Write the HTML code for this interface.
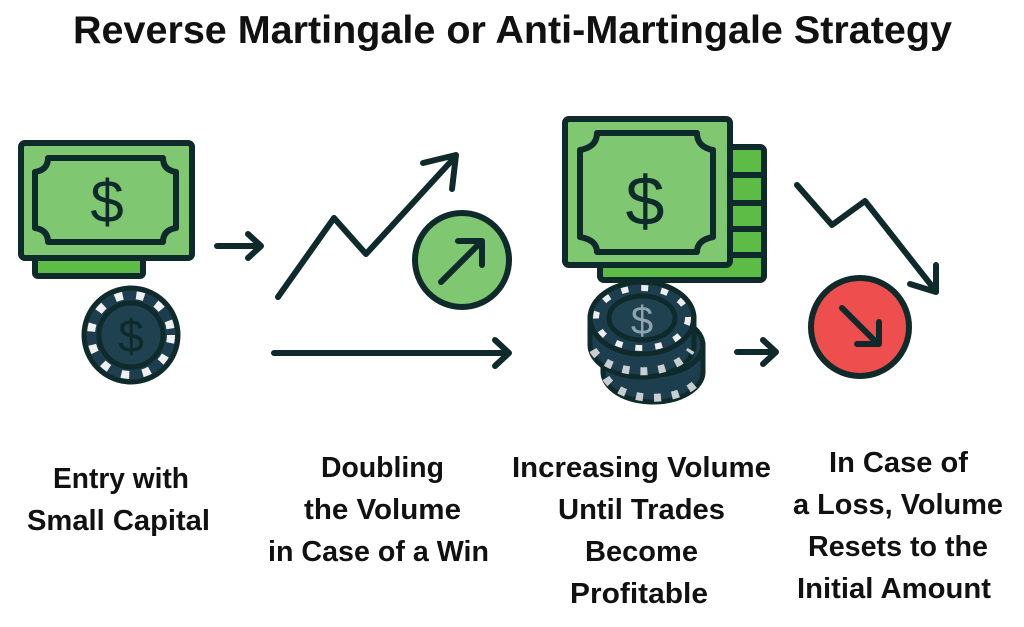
<!DOCTYPE html>
<html><head><style>
html,body{margin:0;padding:0;background:#fff;}
svg{display:block;}
text{font-family:"Liberation Sans",sans-serif;font-weight:bold;fill:#111;}
text.d{font-weight:normal;}
</style></head><body>
<svg width="1024" height="627" viewBox="0 0 1024 627" xmlns="http://www.w3.org/2000/svg">
<rect width="1024" height="627" fill="#fff"/>
<text x="73" y="43" font-size="39" textLength="879" lengthAdjust="spacingAndGlyphs">Reverse Martingale or Anti-Martingale Strategy</text>

<g stroke="#0f2a2a" stroke-width="6" stroke-linejoin="round" stroke-linecap="round">
<rect x="35" y="250" width="108" height="26" rx="3" fill="#5cbc45"/>
<rect x="21" y="143" width="171" height="115" rx="4" fill="#80c772"/>
<path d="M48 158 H163 Q163 170 176 172 V228 Q163 230 163 242 H48 Q48 230 35 228 V172 Q48 170 48 158Z" fill="#80c772"/>
</g>
<text class="d" x="107" y="222" font-size="60" text-anchor="middle" style="fill:#0f2a2a">$</text>

<!-- chip 1 -->
<circle cx="131" cy="335" r="47" fill="#1d3e4e" stroke="#0f2a2a" stroke-width="5"/>
<circle cx="131" cy="335" r="40" fill="none" stroke="#f0f0f0" stroke-width="8" stroke-dasharray="8 13.5"/>
<circle cx="131" cy="335" r="32" fill="#1f4150" stroke="#0f2a2a" stroke-width="5"/>
<text class="d" x="131" y="352" font-size="46" text-anchor="middle" style="fill:#0f2a2a">$</text>

<g fill="none" stroke="#0f2a2a" stroke-width="6" stroke-linecap="round" stroke-linejoin="round">
<path d="M217 246 H260 M248 234 L261 246 L248 258"/>
<path d="M278 297 L334 218 L366 254 L455 157 M423 163 L456 155 L452 189"/>
<path d="M274 353 H508 M495 340 L509 353 L495 366"/>
<path d="M737 352 H775 M763 340 L776 352 L763 364"/>
<path d="M797 185 L832 225 L865 201 L935 290 M910 284 L936 292 L936 265"/>
</g>
<circle cx="462" cy="260" r="47" fill="#80c772" stroke="#0f2a2a" stroke-width="6"/>
<path d="M441 282 L482 241 M458 241 H482 V265" fill="none" stroke="#0f2a2a" stroke-width="6" stroke-linecap="round" stroke-linejoin="round"/>

<circle cx="860" cy="327" r="49" fill="#ef4e4e" stroke="#0f2a2a" stroke-width="6"/>
<path d="M842 308 L878 344 M857 344 H879 V322" fill="none" stroke="#0f2a2a" stroke-width="6" stroke-linecap="round" stroke-linejoin="round"/>

<g stroke="#0f2a2a" stroke-width="6" stroke-linejoin="round" stroke-linecap="round">
<rect x="600" y="147" width="164" height="133" rx="4" fill="#5cbc45"/>
<path d="M720 175 H764 M720 203 H764 M720 229 H764 M720 255 H764" fill="none"/>
<rect x="565" y="119" width="165" height="146" rx="4" fill="#80c772"/>
<path d="M597 133 H697 Q697 147 713 150 V237 Q697 240 697 252 H597 Q597 240 580 237 V150 Q597 147 597 133Z" fill="#80c772"/>
</g>
<text class="d" x="645" y="225" font-size="70" text-anchor="middle" style="fill:#0f2a2a">$</text>

<g stroke="#0f2a2a" stroke-width="5">
<path d="M603 345 V372 A50 30 0 0 0 703 372 V345 Z" fill="#1d3e4e"/>
<ellipse cx="653" cy="345" rx="50" ry="30" fill="#1d3e4e"/>
<path d="M590 318 V345 A52 32 0 0 0 694 345 V318 Z" fill="#1d3e4e"/>
<ellipse cx="642" cy="318" rx="52" ry="36" fill="#1d3e4e"/>
</g>
<path d="M606 378 A50 30 0 0 0 700 378" fill="none" stroke="#c8ced2" stroke-width="8" stroke-dasharray="7 11"/>
<path d="M593 350 A52 32 0 0 0 691 350" fill="none" stroke="#c8ced2" stroke-width="8" stroke-dasharray="7 11"/>
<ellipse cx="642" cy="318" rx="46" ry="30" fill="none" stroke="#eeeeee" stroke-width="6" stroke-dasharray="7 13"/>
<ellipse cx="642" cy="318" rx="33" ry="22" fill="#1f4150" stroke="#0f2a2a" stroke-width="5"/>
<text class="d" x="642" y="334" font-size="40" text-anchor="middle" style="fill:#8fa3b0">$</text>

<g font-size="29" text-anchor="start">
<text x="53" y="488" textLength="136" lengthAdjust="spacingAndGlyphs">Entry with</text>
<text x="27" y="530" textLength="183" lengthAdjust="spacingAndGlyphs">Small Capital</text>
<text x="321" y="477" textLength="123" lengthAdjust="spacingAndGlyphs">Doubling</text>
<text x="304" y="519" textLength="157" lengthAdjust="spacingAndGlyphs">the Volume</text>
<text x="268" y="561" textLength="221" lengthAdjust="spacingAndGlyphs">in Case of a Win</text>
<text x="512" y="477" textLength="259" lengthAdjust="spacingAndGlyphs">Increasing Volume</text>
<text x="558" y="519" textLength="167" lengthAdjust="spacingAndGlyphs">Until Trades</text>
<text x="585" y="561" textLength="113" lengthAdjust="spacingAndGlyphs">Become</text>
<text x="570" y="603" textLength="138" lengthAdjust="spacingAndGlyphs">Profitable</text>
<text x="829" y="472" textLength="139" lengthAdjust="spacingAndGlyphs">In Case of</text>
<text x="793" y="514" textLength="210" lengthAdjust="spacingAndGlyphs">a Loss, Volume</text>
<text x="808" y="556" textLength="180" lengthAdjust="spacingAndGlyphs">Resets to the</text>
<text x="797" y="598" textLength="194" lengthAdjust="spacingAndGlyphs">Initial Amount</text>
</g>
</svg>
</body></html>
